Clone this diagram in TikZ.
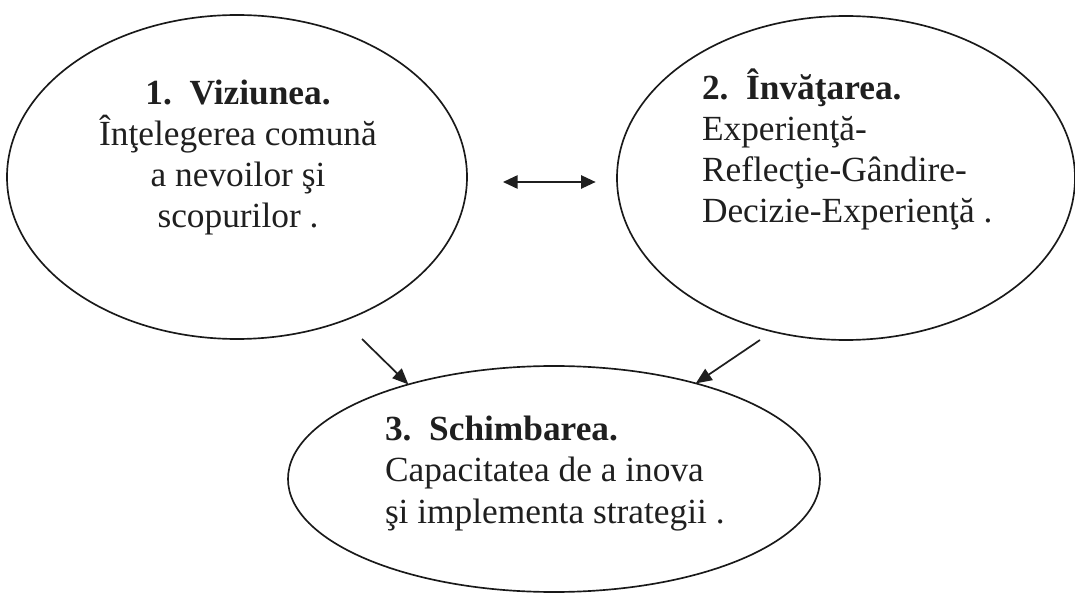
\documentclass[tikz,border=0pt]{standalone}
\usepackage{fontspec}
\setmainfont{Liberation Serif}
\usetikzlibrary{arrows.meta,shapes.geometric}
\begin{document}
\begin{tikzpicture}[x=0.75pt,y=-0.75pt,
  oval/.style={draw=black!90, line width=1.25pt, ellipse, inner sep=0pt, outer sep=0pt},
  txt/.style={inner sep=0pt, outer sep=0pt, text=black!88, font=\fontsize{26.5}{30.8}\selectfont},
  arr/.style={draw=black!88, line width=1.3pt, -{Triangle[length=12pt,width=10pt]}},
  darr/.style={draw=black!88, line width=1.3pt, {Triangle[length=11pt,width=10pt]}-{Triangle[length=11pt,width=10pt]}}]
\useasboundingbox (0,0) rectangle (1075,595);
% ellipses
\node[oval, minimum width=345pt, minimum height=243pt] (e1) at (237,177) {};
\node[oval, minimum width=343.5pt, minimum height=243pt] (e2) at (846,178) {};
\node[oval, minimum width=399pt, minimum height=169.5pt] (e3) at (554,479) {};
% texts
\node[txt, anchor=base, align=center] (t1) at (238,228)
  {\textbf{1.\ \ Viziunea.}\\Înţelegerea comună\\a nevoilor şi\\scopurilor .};
\node[txt, anchor=base west, align=left] (t2) at (702,223)
  {\textbf{2.\ \ Învăţarea.}\\Experienţă-\\Reflecţie-Gândire-\\Decizie-Experienţă .};
\node[txt, anchor=base west, align=left] (t3) at (385,523)
  {\textbf{3.\ \ Schimbarea.}\\Capacitatea de a inova\\şi implementa strategii .};
% connectors
\coordinate (h) at (0,182);
\coordinate (s1) at (362,339);
\coordinate (s2) at (760,340);
\draw[darr, shorten <=27pt, shorten >=16pt] (e1.east |- h) -- (e2.west |- h);
\draw[arr] (s1) -- (e3.147);
\draw[arr] (s2) -- (e3.34);
\end{tikzpicture}
\end{document}
